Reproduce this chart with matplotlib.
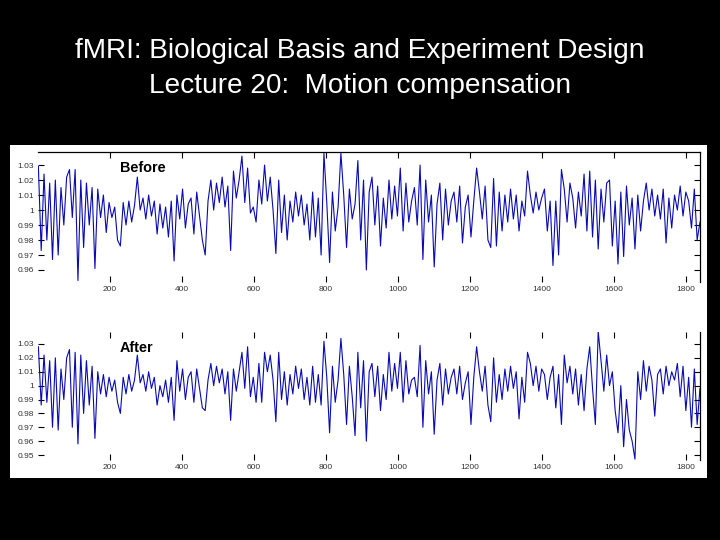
import numpy as np
import matplotlib
matplotlib.use("Agg")
import matplotlib.pyplot as plt

# signal values, in thousandths above/below 1.0
before_milli = [
    29, -27, 24, -20, 18, -33, 20, -30, 15, -10, 22, 27, -5, 27, -47, 20, -25,
    18, -10, 15, -39, 14, -5, 10, -15, 5, -5, 2, -20, -24, 5, -10, 6, -8, 3,
    22, 0, 8, -6, 10, -4, 6, -16, 4, -12, 2, -18, 6, -34, 10, -6, 14, -12, 4,
    8, -16, 12, -4, -20, -30, 6, 20, 0, 18, 5, 22, 2, 16, -27, 26, 8, 20,
    36, 5, 28, -2, 2, -8, 20, 4, 30, 6, 22, 0, -29, 20, -15, 10, -20, 6, -8, 12,
    -4, 10, -10, 4, -20, 12, -18, 8, -30, 38, 5, -35, 12, -14, 2, 38, 10, -25,
    14, -6, 4, 33, -20, 20, -40, 12, 22, -10, 16, -24, 8, -12, 20, -6, 16, -4,
    28, -14, 18, -8, 6, 15, -10, 30, -33, 20, -8, 10, -38, 4, 18, -20, 14, -10,
    6, 12, -8, 16, -22, 2, 10, -18, 6, 28, 12, -6, 16, -20, -25,
    21, -24, 12, -14, 10, -8, 14, -6, 10, -14, 6, -4, 26, 10, -2, 12, 0, 8,
    14, -14, 6, -37, 6, -30, 27, 14, -8, 18, 8, -12, 12, -4, 24, -14, 26, -18,
    20, -26, 14, -8, 18, 20, -24, 6, -36, 12, -31, 16, -10, 8, -26, 10, -14, 6,
    18, 0, 14, -4, 10, -6, 14, -22, 8, -12, 10, 0, 16, -4, 12, 6, -12, 14, -20, -8,
]
after_milli = [
    28, -14, 22, -12, 18, -30, 20, -32, 12, -10, 20, 26, -30, 24, -42, 22, -20,
    18, -14, 14, -38, 10, -6, 8, -8, 6, -4, 4, -12, -20, 6, -6, 8, -4, 4,
    22, 2, 8, -4, 10, -2, 6, -14, 0, -8, 4, -12, 6, -25, 18, -4, 12, -10, 6,
    10, -12, 12, -2, -16, -18, 4, 16, 0, 14, 2, 12, -6, 10, -25, 12, -4, 10,
    24, -2, 28, -8, 6, -12, 16, -12, 24, 10, 22, 4, -26, 24, -10, 10, -14, 8, -6, 14,
    -2, 12, -10, 6, -14, 14, -12, 8, -14, 32, 6, -34, 14, -12, 4, 34, 8, -28,
    14, -8, -36, 24, -16, 18, -40, 10, 16, -8, 14, -18, 8, -10, 24, -4, 16, -2,
    24, -12, 18, -6, 4, 6, -8, 29, -30, 18, -6, 10, -35, 4, 16, -14, 12, -6,
    6, 12, -6, 14, -10, 2, 10, -28, 6, 28, 10, -4, 14, -14, -26,
    20, -12, 8, -10, 12, -4, 14, -2, 10, -24, 6, -12, 24, 16, 0, 14, -4, 12,
    8, -10, 6, 14, -16, 8, -28, 22, 2, 14, -6, 12, -14, 8, -18, 12, 28, -2, -28,
    39, 18, -4, 22, 0, 10, -18, -34, 0, -44, -10, -32, -40, -53, 10, -10, 18, -4,
    14, 4, -22, 8, 12, -6, 14, 0, 10, 4, 16, -8, 14, -18, 6, -30, 12, -28, -2,
]

before = 1 + np.array(before_milli) / 1000.0
after = 1 + np.array(after_milli) / 1000.0
n_scans = 1840
x_before = np.linspace(1, n_scans, len(before))
x_after = np.linspace(1, n_scans, len(after))

xticks = [200, 400, 600, 800, 1000, 1200, 1400, 1600, 1800]
yticks_before = [0.96, 0.97, 0.98, 0.99, 1.0, 1.01, 1.02, 1.03]
yticks_after = [0.95, 0.96, 0.97, 0.98, 0.99, 1.0, 1.01, 1.02, 1.03]

plt.rcParams['font.family'] = ['Liberation Sans', 'DejaVu Sans']
plt.rcParams['xtick.direction'] = 'in'
plt.rcParams['ytick.direction'] = 'in'

fig = plt.figure(figsize=(7.2, 5.4), dpi=100, facecolor='black')

# white panel behind the two plots
bg = fig.add_axes([0.0139, 0.1148, 0.968, 0.6167], zorder=-5)
bg.set_facecolor('white')
bg.set_xticks([])
bg.set_yticks([])
for s in bg.spines.values():
    s.set_visible(False)

fig.text(0.5, 1 - 51 / 540, "fMRI: Biological Basis and Experiment Design",
         ha='center', va='center', color='white', fontsize=20.2)
fig.text(0.5, 1 - 86 / 540, "Lecture 20:  Motion compensation",
         ha='center', va='center', color='white', fontsize=20.2)

ax1 = fig.add_axes([0.0528, 0.4778, 0.9194, 0.2407])
ax2 = fig.add_axes([0.0528, 0.1481, 0.9194, 0.2370])

panels = [
    (ax1, x_before, before, yticks_before, (0.952, 1.0387), "Before", 1.028, ['top', 'right']),
    (ax2, x_after, after, yticks_after, (0.9464, 1.0386), "After", 1.027, ['right']),
]

for ax, xs, ys, yt, ylim, label, ylab, keep in panels:
    ax.plot(xs, ys, color='#0a0ab4', lw=0.8)
    ax.set_xlim(0, n_scans)
    ax.set_ylim(*ylim)
    ax.set_xticks(xticks)
    ax.set_xticklabels([str(t) for t in xticks])
    ax.set_yticks(yt)
    ax.set_yticklabels(['1' if abs(t - 1) < 1e-9 else '%g' % t for t in yt])
    ax.tick_params(axis='both', which='major', length=4, width=0.8,
                   labelsize=6, labelcolor='#333333', top=True, right=True, pad=3)
    for side in ['top', 'right', 'left', 'bottom']:
        ax.spines[side].set_visible(side in keep)
        ax.spines[side].set_linewidth(0.9)
    ax.patch.set_alpha(0)
    ax.text(228, ylab, label, fontsize=10.4, fontweight='bold', ha='left', va='center')

fig.savefig("out.png", dpi=100, facecolor='black')
